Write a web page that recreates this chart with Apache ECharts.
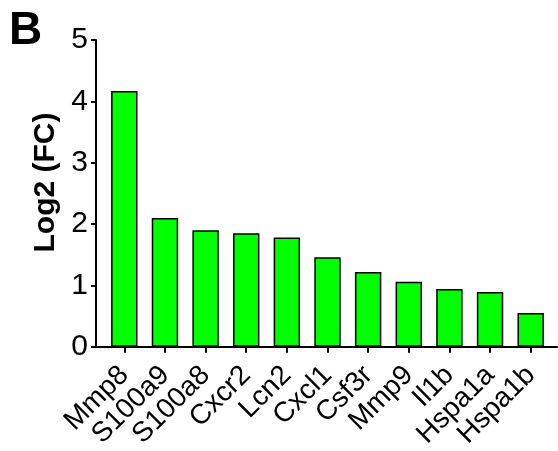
<!DOCTYPE html>
<html><head><meta charset="utf-8">
<script src="https://cdn.jsdelivr.net/npm/echarts@6/dist/echarts.min.js"></script>
<style>html,body{margin:0;padding:0;background:#fff}#c{width:558px;height:451px}</style>
</head><body><div id="c"></div>
<script>
const categories = ['Mmp8','S100a9','S100a8','Cxcr2','Lcn2','Cxcl1','Csf3r','Mmp9','Il1b','Hspa1a','Hspa1b'];
const values = [4.17, 2.10, 1.90, 1.85, 1.78, 1.46, 1.22, 1.06, 0.94, 0.89, 0.55];
const yTicks = [0, 1, 2, 3, 4, 5];

const chart = echarts.init(document.getElementById('c'));
const font = 'Liberation Sans, Arial, sans-serif';
chart.setOption({
  animation: false,
  title: { text: 'B', left: 4, top: 3, textStyle: { fontFamily: font, fontWeight: 'bold', fontSize: 46, color: '#000' } },
  grid: [
    { left: 96, right: 1, top: 40, bottom: 104 },
    { left: 104, right: 7, top: 40, bottom: 104 }
  ],
  xAxis: [
    { gridIndex: 0, type: 'value', min: 0, max: 1, axisLine: { show: true, lineStyle: { color: '#000', width: 2 } },
      axisTick: { show: false }, axisLabel: { show: false }, splitLine: { show: false } },
    { gridIndex: 1, type: 'category', data: categories, axisLine: { show: false },
      axisTick: { show: true, alignWithLabel: true, length: 6, lineStyle: { color: '#000', width: 2 } },
      axisLabel: { rotate: 45, margin: 24, fontFamily: font, fontSize: 28, color: '#000', interval: 0 } }
  ],
  yAxis: [
    { gridIndex: 0, type: 'value', min: 0, max: 5, interval: 1,
      name: 'Log2 (FC)', nameLocation: 'middle', nameGap: 27,
      nameTextStyle: { fontFamily: font, fontWeight: 'bold', fontSize: 30, color: '#000', padding: [0, 0, 0, 22] },
      axisLine: { show: true, lineStyle: { color: '#000', width: 2 } },
      axisTick: { show: true, length: 5, lineStyle: { color: '#000', width: 2 } },
      axisLabel: { margin: 8, fontFamily: font, fontSize: 30, color: '#000',
        formatter: v => yTicks.includes(v) ? String(v) : '' },
      splitLine: { show: false } },
    { gridIndex: 1, type: 'value', min: 0, max: 5, show: false }
  ],
  series: [{
    type: 'bar', xAxisIndex: 1, yAxisIndex: 1, data: values, barWidth: '65%',
    itemStyle: { color: '#00ff00', borderColor: '#000', borderWidth: 1.5 }
  }]
});
</script></body></html>
